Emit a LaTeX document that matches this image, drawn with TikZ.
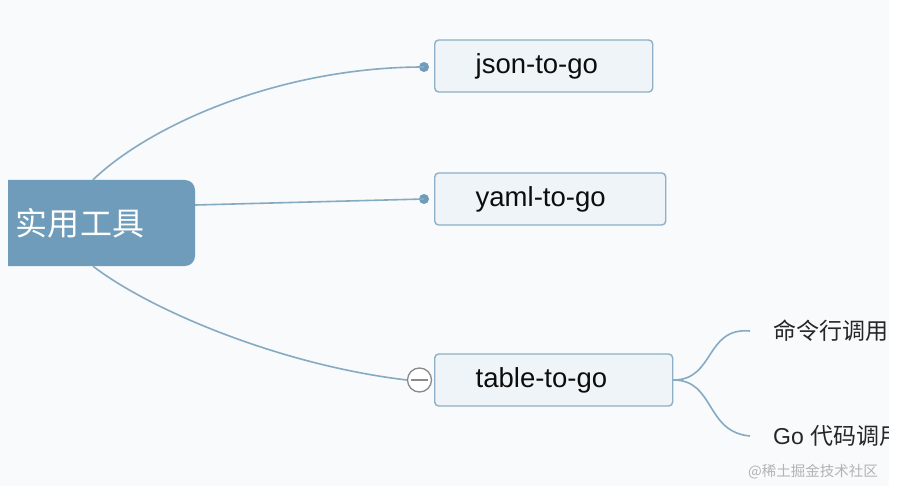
\documentclass[tikz,border=0pt]{standalone}
\usepackage{fontspec}
\setmainfont{Liberation Sans}
\newfontfamily\cjk{Noto Sans CJK SC}
\definecolor{bgcol}{HTML}{F8FAFB}
\definecolor{rootcol}{HTML}{6E9CBA}
\definecolor{boxfill}{HTML}{EEF4F8}
\definecolor{boxline}{HTML}{8DB0C8}
\definecolor{linkcol}{HTML}{86AAC2}
\definecolor{dotcol}{HTML}{6E9CBA}
\definecolor{minuscol}{HTML}{8A8A8A}
\definecolor{wmcol}{HTML}{B3B3B3}
\tikzset{
  rootbox/.style={fill=rootcol, rounded corners=10pt, minimum width=230pt, minimum height=86pt,
    inner sep=0pt, text=white, font=\cjk\fontsize{32}{36}\selectfont},
  childbox/.style={draw=boxline, line width=1.4pt, fill=boxfill, rounded corners=4pt,
    minimum height=52pt, inner xsep=0pt, inner ysep=0pt, align=left, anchor=west,
    text=black!95, font=\fontsize{27.5}{30}\selectfont},
  leaf/.style={anchor=west, inner sep=0pt, text=black!85, font=\fontsize{23}{26}\selectfont},
  link/.style={draw=linkcol, line width=1.6pt},
  knob/.style={circle, fill=dotcol, minimum size=10pt, inner sep=0pt},
  fold/.style={circle, draw=minuscol, line width=1.3pt, fill=white, minimum size=24pt, inner sep=0pt},
  wm/.style={text=wmcol, font=\cjk\fontsize{14.5}{17}\selectfont, inner sep=0pt}
}
\begin{document}
\begin{tikzpicture}[x=1pt, y=-1pt]
\fill[bgcol] (0,0) rectangle (901,486);
\useasboundingbox (0,0) rectangle (901,486);

% root
\begin{scope}
  \clip (8,0) rectangle (901,486);
  \node[rootbox] (root) at (80,223) {\raisebox{-1.5pt}{实用工具}};
\end{scope}

% children
\node[childbox, text width=218pt] (json) at (434,66) {\hspace*{41pt}\raisebox{-2pt}{json-to-go}};
\node[childbox, text width=231pt] (yaml) at (434,199) {\hspace*{41pt}\raisebox{-2pt}{yaml-to-go}};
\node[childbox, text width=238pt] (table) at (434,380) {\hspace*{41pt}\raisebox{-2pt}{table-to-go}};

% knobs
\node[knob] (kj) at (424,67) {};
\node[knob] (ky) at (424,199) {};
\node[fold] (kt) at (419.5,380) {};
\draw[minuscol, line width=1.4pt] ([xshift=-8.5pt]kt.center) -- ([xshift=8.5pt]kt.center);

% connectors
\draw[link] ([xshift=13pt]root.north) .. controls (150,125) and (280,67) .. (kj.center);
\draw[link] ([yshift=18pt]root.east) -- (ky.center);
\draw[link] ([xshift=13pt]root.south) .. controls (150,310) and (280,365) .. (kt.west);

% leaves
\node[leaf] (cmd) at (773,331) {\cjk 命令行调用};
\node[leaf] (gocode) at (773,436) {Go {\cjk 代码调用}};
\draw[link] (table.east) .. controls (715,380) and (705,327) .. ([xshift=-23pt]cmd.west);
\draw[link] (table.east) .. controls (715,380) and (705,432) .. ([xshift=-23pt]gocode.west);

% right white strip (crop)
\fill[white] (889,0) rectangle (901,486);

% watermark
\node[wm, anchor=west] (mark) at (748,472) {@稀土掘金技术社区};
\end{tikzpicture}
\end{document}
